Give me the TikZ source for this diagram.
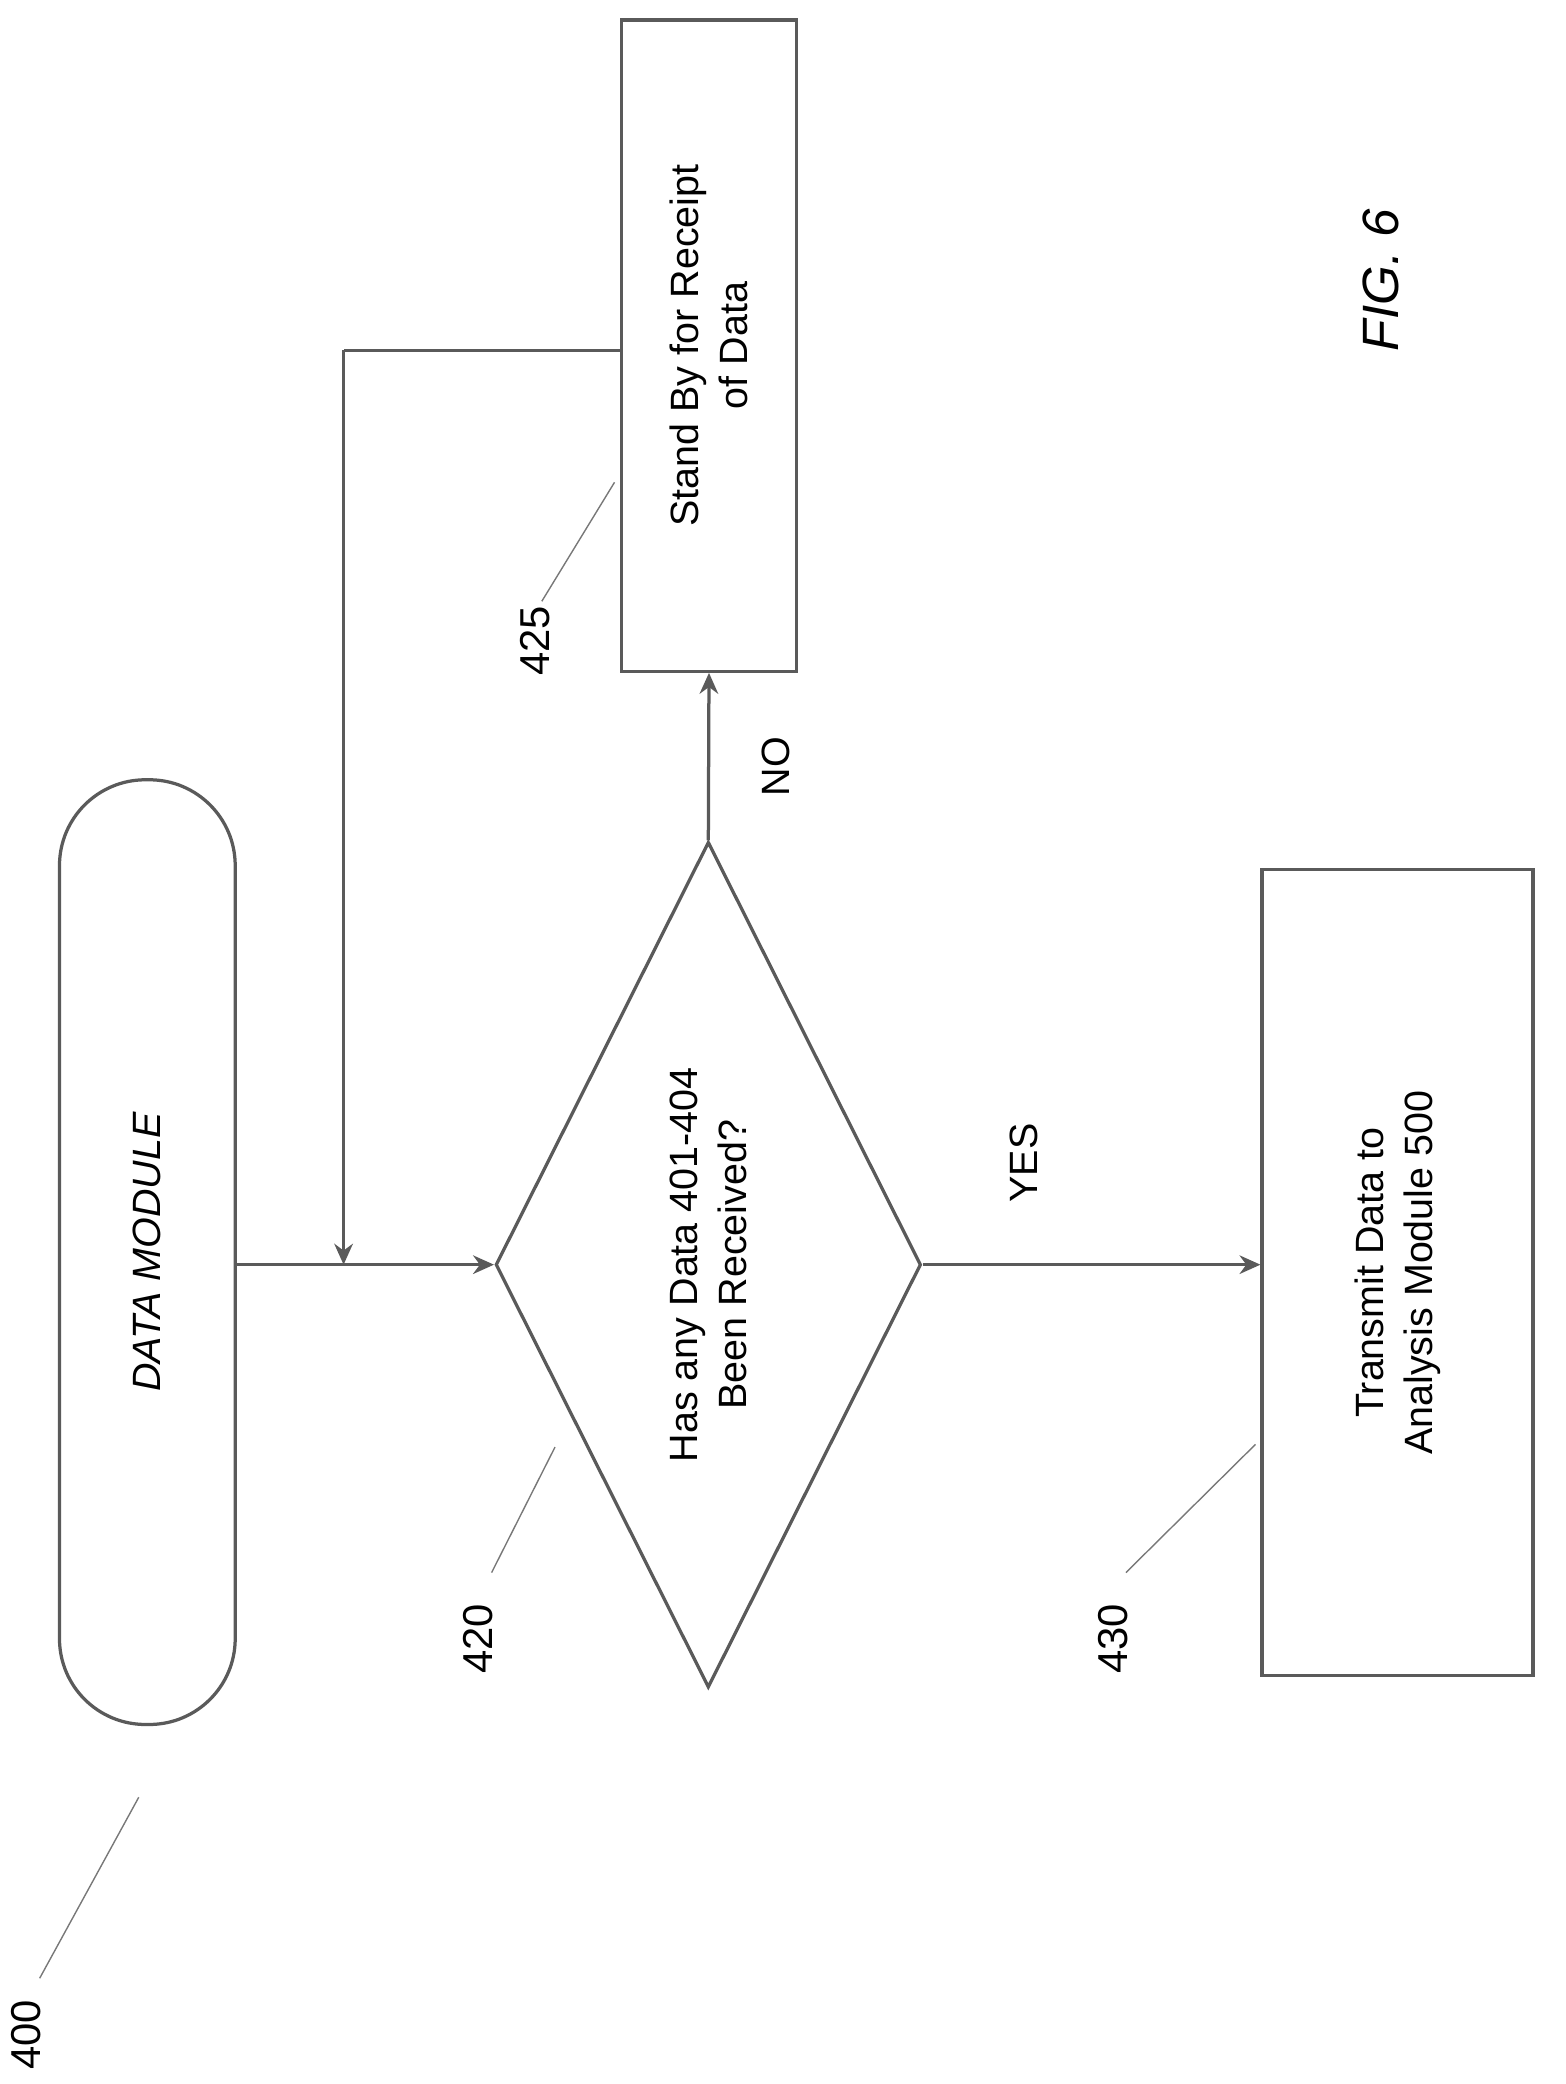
\documentclass[tikz,border=0pt]{standalone}
\usepackage{fontspec}
\setmainfont{Liberation Sans}
\usetikzlibrary{shapes.geometric}
\usetikzlibrary{arrows.meta}
\tikzstyle{none}=[inner sep=0pt]
\tikzstyle{terminal_unit}=[draw={rgb,255: red,90; green,90; blue,90}, line width=1.4pt, shape=rectangle, rounded corners=1.3cm, minimum width=14.3cm, minimum height=2.66cm, rotate=90, align=center]
\tikzstyle{process_unit}=[draw={rgb,255: red,90; green,90; blue,90}, line width=1.4pt, shape=rectangle, rotate=90, align=center]
\tikzstyle{decision_unit}=[draw={rgb,255: red,90; green,90; blue,90}, line width=1.4pt, shape=diamond, aspect=2, minimum width=12.8cm, minimum height=6.44cm, inner sep=0pt, rotate=90, align=center]
\tikzstyle{myText}=[rotate=90, font=\fontsize{17}{21}\selectfont]
\tikzstyle{ref_label}=[rotate=90, font=\fontsize{18}{21}\selectfont]
\tikzstyle{main_connector}=[-{Stealth[length=9pt,width=8pt]}, draw={rgb,255: red,90; green,90; blue,90}, line width=1.4pt]
\tikzstyle{plain_connector}=[-, draw={rgb,255: red,90; green,90; blue,90}, line width=1.4pt]
\tikzstyle{leader}=[-, draw={rgb,255: red,120; green,120; blue,120}, line width=0.6pt]

\begin{document}
\begin{tikzpicture}[x=0.02cm, y=-0.02cm]
    \useasboundingbox (0,0) rectangle (1185,1577);

    % flow blocks
    \node [style={terminal_unit}, font=\fontsize{17}{21}\selectfont\itshape] (0) at (111.5, 947.5) {DATA MODULE};
    \node [style={decision_unit}, font=\fontsize{17}{21}\selectfont] (1) at (536, 957) {Has any Data 401-404\\Been Received?};
    \node [style={process_unit}, minimum width=9.86cm, minimum height=2.66cm, font=\fontsize{17}{21}\selectfont] (2) at (536.5, 261.5) {Stand By for Receipt\\of Data};
    \node [style={process_unit}, minimum width=12.2cm, minimum height=4.1cm, font=\fontsize{17}{21}\selectfont] (3) at (1057.5, 963) {Transmit Data to\\Analysis Module 500};

    % branch labels
    \node [style=myText] (10) at (587, 580) {NO};
    \node [style=myText] (11) at (775, 880) {YES};
    \node [style=ref_label, font=\fontsize{22}{26}\selectfont\itshape] (12) at (1045, 212) {FIG. 6};

    % reference numerals
    \node [style=ref_label] (20) at (20, 1540) {400};
    \node [style=ref_label] (21) at (362, 1240) {420};
    \node [style=ref_label] (22) at (405, 485) {425};
    \node [style=ref_label] (23) at (842, 1240) {430};

    % docking points
    \coordinate (30) at (260, 265);
    \coordinate (31) at (260, 957);
    \coordinate (40) at (30, 1497);
    \coordinate (41) at (105, 1360);
    \coordinate (42) at (372, 1190);
    \coordinate (43) at (420, 1095);
    \coordinate (44) at (410, 455);
    \coordinate (45) at (465, 365);
    \coordinate (46) at (852, 1190);
    \coordinate (47) at (950, 1093);

    % connectors (nodes are turned, so anchors are turned too)
    \draw [style={main_connector}] (0.south |- 1.north) to (1.north);
    \draw [style={main_connector}] (1.east) to (2.west);
    \draw [style={main_connector}] (1.south) to (1.south -| 3.north);
    \draw [style={plain_connector}] (2.north |- 30) to (30);
    \draw [style={main_connector}] (30) to (31);

    % leaders
    \draw [style=leader] (40) to (41);
    \draw [style=leader] (42) to (43);
    \draw [style=leader] (44) to (45);
    \draw [style=leader] (46) to (47);
\end{tikzpicture}
\end{document}
